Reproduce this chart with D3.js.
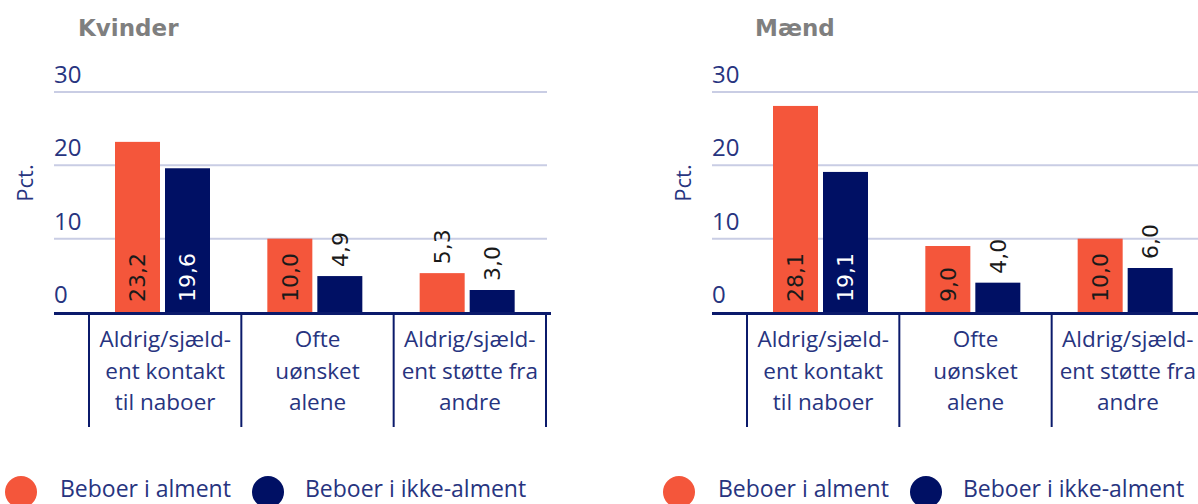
<!DOCTYPE html>
<html>
<head>
<meta charset="utf-8">
<script src="https://cdn.jsdelivr.net/npm/d3@7"></script>
<style>
  html, body { margin: 0; padding: 0; background: #ffffff; }
  svg { display: block; }
</style>
</head>
<body>
<svg id="chart" width="1198" height="504"></svg>
<script>
// ---- DATA ----
const categories = ["Aldrig/sjældent kontakt til naboer", "Ofte uønsket alene", "Aldrig/sjældent støtte fra andre"];
const categoryLines = [
  ["Aldrig/sjæld-", "ent kontakt", "til naboer"],
  ["Ofte", "uønsket", "alene"],
  ["Aldrig/sjæld-", "ent støtte fra", "andre"]
];
const seriesNames = ["Beboer i alment", "Beboer i ikke-alment"];
const kvinderAlment = [23.2, 10.0, 5.3];
const kvinderIkkeAlment = [19.6, 4.9, 3.0];
const maendAlment = [28.1, 9.0, 10.0];
const maendIkkeAlment = [19.1, 4.0, 6.0];
const yTicks = [0, 10, 20, 30];
const panelTitles = ["Kvinder", "Mænd"];
const yLabel = "Pct.";

// ---- STYLE ----
const colors = ["#f4563b", "#001064"];
const navyText = "#27347f";
const gridColor = "#c9cde4";
const axisColor = "#0b1a6b";

const locale = d3.formatLocale({decimal: ",", thousands: ".", grouping: [3], currency: ["", " kr."]});
const fmt = locale.format(".1f");

const svg = d3.select("#chart");

const panels = [
  {title: panelTitles[0], values: [kvinderAlment, kvinderIkkeAlment], dx: 0, titleX: 78},
  {title: panelTitles[1], values: [maendAlment, maendIkkeAlment], dx: 658, titleX: 755}
];

const y = d3.scaleLinear().domain([0, 30]).range([312, 92]);

panels.forEach(p => {
  const g = svg.append("g").attr("transform", `translate(${p.dx},0)`);

  const x0 = d3.scaleBand().domain(categories).range([89, 546]).paddingInner(0).paddingOuter(0);
  const x1 = d3.scaleBand().domain(seriesNames).range([26, 121]).paddingInner(0.1).paddingOuter(0);

  // title
  svg.append("text")
    .attr("x", p.titleX).attr("y", 36)
    .attr("font-family", "DejaVu Sans, Verdana, sans-serif")
    .attr("font-weight", "bold").attr("font-size", 23)
    .attr("fill", "#7f7f7f")
    .text(p.title);

  // gridlines
  g.selectAll("line.grid").data(yTicks.filter(t => t > 0)).enter().append("line")
    .attr("x1", 54).attr("x2", 547)
    .attr("y1", d => y(d)).attr("y2", d => y(d))
    .attr("stroke", gridColor).attr("stroke-width", 2);

  // tick labels
  g.selectAll("text.ytick").data(yTicks).enter().append("text")
    .attr("x", 54).attr("y", d => y(d) - 9)
    .attr("font-family", "Open Sans, sans-serif").attr("font-size", 24)
    .attr("fill", navyText)
    .text(d => d);

  // y label
  g.append("text")
    .attr("transform", "translate(25,183) rotate(-90)")
    .attr("text-anchor", "middle").attr("dy", "0.35em")
    .attr("font-family", "Open Sans, sans-serif").attr("font-size", 22)
    .attr("fill", navyText)
    .text(yLabel);

  // bars
  seriesNames.forEach((s, si) => {
    const vals = p.values[si];
    g.selectAll(`rect.s${si}`).data(vals).enter().append("rect")
      .attr("x", (d, i) => x0(categories[i]) + x1(s))
      .attr("y", d => y(d))
      .attr("width", x1.bandwidth())
      .attr("height", d => y(0) - y(d))
      .attr("fill", colors[si]);

    g.selectAll(`text.v${si}`).data(vals).enter().append("text")
      .attr("transform", (d, i) => {
        const cx = x0(categories[i]) + x1(s) + x1.bandwidth() / 2;
        const inside = d >= 8;
        const yy = inside ? y(0) - 10 : y(d) - 9;
        return `translate(${cx},${yy}) rotate(-90)`;
      })
      .attr("dy", "0.36em")
      .attr("text-anchor", "start")
      .attr("font-family", "DejaVu Sans, Verdana, sans-serif").attr("font-size", 22)
      .attr("fill", d => (d >= 8 && si === 1) ? "#ffffff" : "#1a1a1a")
      .text(d => fmt(d));
  });

  // x axis line
  g.append("line")
    .attr("x1", 54).attr("x2", 551)
    .attr("y1", 313.5).attr("y2", 313.5)
    .attr("stroke", axisColor).attr("stroke-width", 3);

  // category separators (ticks)
  const sepX = categories.map(c => x0(c)).concat([x0.range()[1]]);
  g.selectAll("line.sep").data(sepX).enter().append("line")
    .attr("x1", d => d).attr("x2", d => d)
    .attr("y1", 313).attr("y2", 427)
    .attr("stroke", axisColor).attr("stroke-width", 2);

  // category labels
  categories.forEach((c, i) => {
    const cx = x0(c) + x0.bandwidth() / 2;
    const t = g.append("text")
      .attr("text-anchor", "middle")
      .attr("font-family", "Open Sans, sans-serif").attr("font-size", 22.5)
      .attr("fill", navyText);
    categoryLines[i].forEach((line, li) => {
      t.append("tspan").attr("x", cx).attr("y", 347 + li * 31.5).text(line);
    });
  });

  // legend
  const legX = [21, 268];
  const legTextX = [60, 305];
  seriesNames.forEach((s, si) => {
    g.append("circle").attr("cx", legX[si]).attr("cy", 492).attr("r", 16).attr("fill", colors[si]);
    g.append("text")
      .attr("x", legTextX[si]).attr("y", 497)
      .attr("font-family", "Open Sans, sans-serif").attr("font-size", 23)
      .attr("fill", navyText)
      .text(s);
  });
});
</script>
</body>
</html>
